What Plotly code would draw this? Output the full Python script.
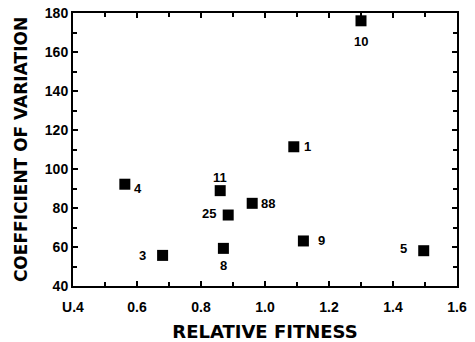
import plotly.graph_objects as go

labels = ["10", "1", "4", "11", "88", "25", "9", "3", "8", "5"]
fitness = [1.30, 1.09, 0.562, 0.86, 0.96, 0.885, 1.12, 0.68, 0.87, 1.496]
cv = [176, 111.4, 92.2, 88.9, 82.4, 76.4, 63.1, 55.7, 59.3, 58.1]
# label offsets in pixels (style, not data)
label_dx = [0, 14, 13, 0, 16, -19, 18, -20, 0, -20]
label_dy = [-21, 0, -4, 13, 0, 2, 0, 0, -17, 2]

x_tickvals = [0.4, 0.6, 0.8, 1.0, 1.2, 1.4, 1.6]
x_ticktext = ["U.4", "0.6", "0.8", "1.0", "1.2", "1.4", "1.6"]
y_tickvals = [40, 60, 80, 100, 120, 140, 160, 180]

FONT = "Liberation Sans"

fig = go.Figure()
fig.add_trace(go.Scatter(
    x=fitness, y=cv, mode="markers",
    marker=dict(symbol="square", size=11, color="black"),
    cliponaxis=False, showlegend=False,
))
for xv, yv, lab, dx, dy in zip(fitness, cv, labels, label_dx, label_dy):
    fig.add_annotation(x=xv, y=yv, text=lab, showarrow=False, xshift=dx, yshift=dy,
                       font=dict(family=FONT, size=13, color="black", weight="bold"))

axis_common = dict(
    showline=True, linecolor="black", linewidth=2, mirror="ticks",
    ticks="inside", ticklen=5, tickwidth=1.5, tickcolor="black",
    showgrid=False, zeroline=False, automargin=False,
    tickfont=dict(family=FONT, size=14, color="black", weight="bold"),
)

fig.update_layout(
    width=475, height=342,
    margin=dict(l=73, r=18, t=13, b=56),
    paper_bgcolor="white", plot_bgcolor="white",
    font=dict(family=FONT, color="black"),
    xaxis=dict(range=[0.4, 1.6], tickvals=x_tickvals, ticktext=x_ticktext,
               ticklabelstandoff=7,
               title=dict(text="RELATIVE FITNESS", standoff=13,
                          font=dict(family="DejaVu Sans", size=18, color="black", weight="bold")),
               minor=dict(ticks="inside", ticklen=4, tickcolor="black", dtick=0.1, tick0=0.4),
               **axis_common),
    yaxis=dict(range=[40, 180], tickvals=y_tickvals,
               title=dict(text="COEFFICIENT OF VARIATION", standoff=13,
                          font=dict(family="DejaVu Sans", size=17, color="black", weight="bold")),
               minor=dict(ticks="inside", ticklen=4, tickcolor="black", dtick=10, tick0=40),
               **axis_common),
)

fig.write_html("out.html", config={"displayModeBar": False},
               post_script="document.body.style.margin='0';")
